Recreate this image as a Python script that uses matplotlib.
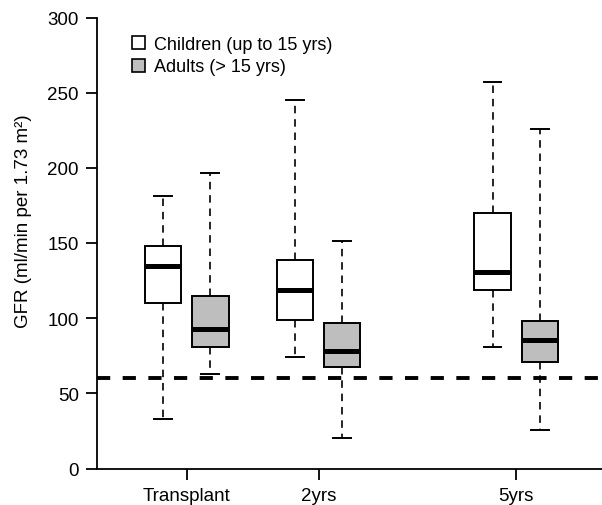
import numpy as np
import matplotlib.pyplot as plt
from matplotlib.patches import Patch

plt.rcParams['font.family'] = ['Liberation Sans', 'DejaVu Sans']

# time points (years after transplant) and their labels
times = [0, 2, 5]
time_labels = ["Transplant", "2yrs", "5yrs"]

# children (up to 15 yrs): whisker low, q1, median, q3, whisker high
child_low = [33, 74, 81]
child_q1 = [110, 98.5, 118.5]
child_med = [135, 118.5, 131]
child_q3 = [148, 138.5, 170]
child_high = [181, 245, 257]

# adults (> 15 yrs)
adult_low = [63, 20.5, 25.5]
adult_q1 = [81, 67.5, 71]
adult_med = [92.5, 78, 85.5]
adult_q3 = [115, 96.5, 98]
adult_high = [196.5, 151.5, 226]

threshold = 60

def make_stats(lo, q1, med, q3, hi):
    return [dict(whislo=a, q1=b, med=c, q3=d, whishi=e, fliers=[])
            for a, b, c, d, e in zip(lo, q1, med, q3, hi)]

fig = plt.figure(figsize=(6.02, 5.06), dpi=100)
ax = fig.add_axes([97/602, 36.5/506, 1 - 97/602, 451/506])

offset = 0.36
width = 0.55
common = dict(widths=width, capwidths=0.27, patch_artist=True, showfliers=False,
              medianprops=dict(color="black", linewidth=3.6),
              whiskerprops=dict(color="black", linewidth=1.2, linestyle=(0, (4.5, 3.5))),
              capprops=dict(color="black", linewidth=1.4))

ax.bxp(make_stats(child_low, child_q1, child_med, child_q3, child_high),
       positions=[t - offset for t in times],
       boxprops=dict(facecolor="white", edgecolor="black", linewidth=1.4), **common)
ax.bxp(make_stats(adult_low, adult_q1, adult_med, adult_q3, adult_high),
       positions=[t + offset for t in times],
       boxprops=dict(facecolor="#bebebe", edgecolor="black", linewidth=1.4), **common)

ax.axhline(threshold, color="black", linewidth=2.8, linestyle=(0, (3.4, 3.2)))

ax.set_xlim(-1.36, 6.3)
ax.set_ylim(0, 300)
ax.set_xticks(times)
ax.set_xticklabels(time_labels)
ax.set_yticks(np.arange(0, 301, 50))
for s in ["top", "right"]:
    ax.spines[s].set_visible(False)
for s in ["left", "bottom"]:
    ax.spines[s].set_linewidth(1.3)
ax.tick_params(axis="both", length=8, width=1.3, labelsize=13.5, pad=5)
ax.set_ylabel("GFR (ml/min per 1.73 m²)", fontsize=13.5)
ax.yaxis.set_label_coords(-0.128, 0.551)

handles = [Patch(facecolor="white", edgecolor="black", linewidth=1.2, label="Children (up to 15 yrs)"),
           Patch(facecolor="#bebebe", edgecolor="black", linewidth=1.2, label="Adults (> 15 yrs)")]
ax.legend(handles=handles, loc="upper left", bbox_to_anchor=(132/602, 1 - 37/506),
          bbox_transform=fig.transFigure, frameon=False, fontsize=13,
          handlelength=0.72, handleheight=0.72, handletextpad=0.5,
          labelspacing=0.3, borderpad=0, borderaxespad=0)

fig.savefig("out.png", dpi=100)
